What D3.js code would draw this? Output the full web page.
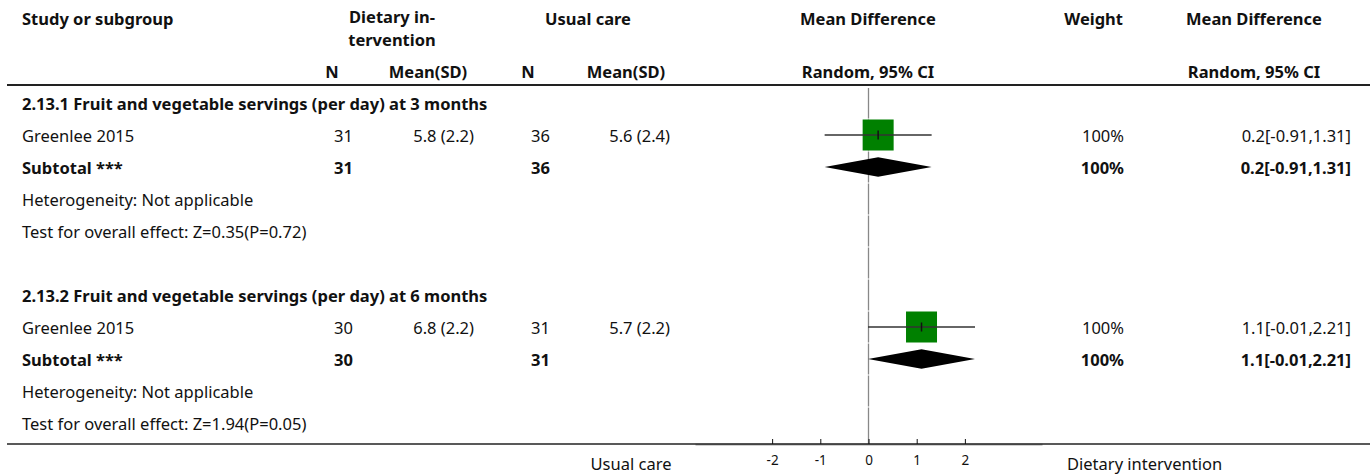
<!DOCTYPE html>
<html>
<head>
    <meta charset="utf-8">
    <title>Forest plot: fruit and vegetable servings</title>
    <script src="https://d3js.org/d3.v7.min.js"></script>
    <style>
        body {
            margin: 0;
            background: #fff;
        }
        svg text {
            fill: #111;
            font-family: "Noto Sans", Lato, sans-serif;
            font-size: 16.5px;
        }
        .bold {
            font-weight: bold;
        }
        svg text.tick-label {
            font-size: 13.5px;
        }
    </style>
</head>
<body>
    <div id="chart"></div>

    <script>
        const width = 1370;
        const height = 476;

        // data
        const subgroups = [
            '2.13.1 Fruit and vegetable servings (per day) at 3 months',
            '2.13.2 Fruit and vegetable servings (per day) at 6 months'
        ];
        const studies = ['Greenlee 2015', 'Greenlee 2015'];
        const intN = [31, 30];
        const intMean = [5.8, 6.8];
        const intSD = [2.2, 2.2];
        const ctlN = [36, 31];
        const ctlMean = [5.6, 5.7];
        const ctlSD = [2.4, 2.2];
        const meanDiff = [0.2, 1.1];
        const ciLow = [-0.91, -0.01];
        const ciHigh = [1.31, 2.21];
        const weights = [100, 100];
        const heterogeneity = ['Not applicable', 'Not applicable'];
        const zStat = ['0.35', '1.94'];
        const pValue = ['0.72', '0.05'];
        const axisTicks = [-2, -1, 0, 1, 2];
        const favoursLeft = 'Usual care';
        const favoursRight = 'Dietary intervention';

        const svg = d3.select('#chart')
            .append('svg')
            .attr('width', width)
            .attr('height', height);

        const x = d3.scaleLinear().domain([-3.6, 3.6]).range([695, 1042]);
        const size = d3.scaleSqrt().domain([0, 100]).range([0, 31]);

        // rows: each subgroup has 5 rows plus a blank spacer between groups
        const rowY = i => 103 + i * 32;
        const rowsPerGroup = 6;
        const axisY = 444;

        const cols = {
            study: 22, intN: 353, intMean: 474, ctlN: 550, ctlMean: 670,
            weight: 1124, md: 1351
        };

        function addText(tx, ty, str, anchor, bold, cls) {
            return svg.append('text')
                .attr('x', tx)
                .attr('y', ty)
                .attr('text-anchor', anchor || 'start')
                .attr('class', (bold ? 'bold ' : '') + (cls || ''))
                .text(str);
        }

        // header
        addText(cols.study, 25, 'Study or subgroup', 'start', true);
        addText(392, 23, 'Dietary in-', 'middle', true);
        addText(392, 46, 'tervention', 'middle', true);
        addText(588, 25, 'Usual care', 'middle', true);
        addText(868, 25, 'Mean Difference', 'middle', true);
        addText(1123, 25, 'Weight', 'end', true);
        addText(1254, 25, 'Mean Difference', 'middle', true);
        addText(332, 78, 'N', 'middle', true);
        addText(428, 78, 'Mean(SD)', 'middle', true);
        addText(528, 78, 'N', 'middle', true);
        addText(626, 78, 'Mean(SD)', 'middle', true);
        addText(868, 78, 'Random, 95% CI', 'middle', true);
        addText(1254, 78, 'Random, 95% CI', 'middle', true);

        svg.append('line')
            .attr('x1', 7).attr('x2', width)
            .attr('y1', 85).attr('y2', 85)
            .attr('stroke', '#222').attr('stroke-width', 2);

        // zero line, broken slightly at each row boundary
        const nRows = subgroups.length * rowsPerGroup - 1;
        d3.range(nRows).forEach(i => {
            const top = i === 0 ? 88 : rowY(i) - 15.5;
            const bottom = i === nRows - 1 ? axisY : rowY(i) + 15.5;
            svg.append('line')
                .attr('x1', x(0)).attr('x2', x(0))
                .attr('y1', top).attr('y2', bottom)
                .attr('stroke', '#888').attr('stroke-width', 1.3);
        });

        subgroups.forEach((name, g) => {
            const base = g * rowsPerGroup;
            const yStudy = rowY(base + 1);
            const ySub = rowY(base + 2);

            addText(cols.study, rowY(base) + 7, name, 'start', true);

            // study row
            addText(cols.study, yStudy + 7, studies[g]);
            addText(cols.intN, yStudy + 7, intN[g], 'end');
            addText(cols.intMean, yStudy + 7, `${intMean[g]} (${intSD[g]})`, 'end');
            addText(cols.ctlN, yStudy + 7, ctlN[g], 'end');
            addText(cols.ctlMean, yStudy + 7, `${ctlMean[g]} (${ctlSD[g]})`, 'end');
            addText(cols.weight, yStudy + 7, weights[g] + '%', 'end');
            addText(cols.md, yStudy + 7, `${meanDiff[g]}[${ciLow[g]},${ciHigh[g]}]`, 'end');

            const s = size(weights[g]);
            svg.append('rect')
                .attr('x', x(meanDiff[g]) - s / 2)
                .attr('y', yStudy - s / 2)
                .attr('width', s)
                .attr('height', s)
                .attr('fill', '#008000');
            svg.append('line')
                .attr('x1', x(ciLow[g])).attr('x2', x(ciHigh[g]))
                .attr('y1', yStudy).attr('y2', yStudy)
                .attr('stroke', '#333').attr('stroke-width', 1.5);
            svg.append('line')
                .attr('x1', x(meanDiff[g])).attr('x2', x(meanDiff[g]))
                .attr('y1', yStudy - 4.5).attr('y2', yStudy + 4.5)
                .attr('stroke', '#111').attr('stroke-width', 1.5);

            // subtotal row
            addText(cols.study, ySub + 7, 'Subtotal ***', 'start', true);
            addText(cols.intN, ySub + 7, intN[g], 'end', true);
            addText(cols.ctlN, ySub + 7, ctlN[g], 'end', true);
            addText(cols.weight, ySub + 7, weights[g] + '%', 'end', true);
            addText(cols.md, ySub + 7, `${meanDiff[g]}[${ciLow[g]},${ciHigh[g]}]`, 'end', true);

            const d = [
                [x(ciLow[g]), ySub],
                [x(meanDiff[g]), ySub - 9.7],
                [x(ciHigh[g]), ySub],
                [x(meanDiff[g]), ySub + 9.7]
            ];
            svg.append('path')
                .attr('d', d3.line()(d) + 'Z')
                .attr('fill', '#000');

            addText(cols.study, rowY(base + 3) + 7, 'Heterogeneity: ' + heterogeneity[g]);
            addText(cols.study, rowY(base + 4) + 7,
                `Test for overall effect: Z=${zStat[g]}(P=${pValue[g]})`);
        });

        // bottom rule and axis
        svg.append('line')
            .attr('x1', 7).attr('x2', width)
            .attr('y1', axisY).attr('y2', axisY)
            .attr('stroke', '#222').attr('stroke-width', 1.5);

        const axis = svg.append('g')
            .attr('transform', `translate(0,${axisY})`)
            .call(d3.axisTop(x).tickValues(axisTicks).tickSize(5).tickSizeOuter(0)
                .tickFormat(d => String(d)));
        axis.select('.domain').attr('stroke', '#444').attr('stroke-width', 1.5);
        axis.selectAll('.tick line').attr('stroke', '#111');
        axis.selectAll('.tick text')
            .attr('class', 'tick-label')
            .attr('y', 21)
            .attr('dy', 0)
            .attr('font-family', null)
            .attr('font-size', null);
        axis.attr('font-family', null).attr('font-size', null);

        addText(631, 470, favoursLeft, 'middle');
        addText(1067, 470, favoursRight, 'start');
    </script>
</body>
</html>
